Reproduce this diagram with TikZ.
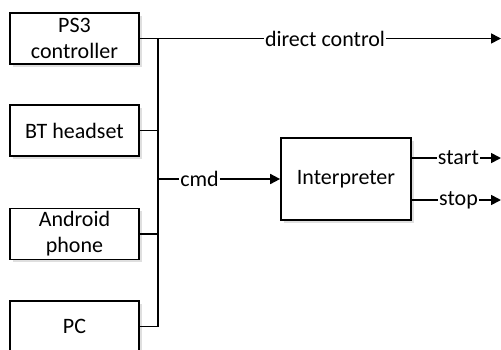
\documentclass[tikz,border=0pt]{standalone}
\usepackage{fontspec}
\setmainfont{Carlito}
\usetikzlibrary{arrows.meta, positioning, shadows}

\tikzset{
	srcbox/.style={
		draw,
		line width=1.7pt,
		fill=white,
		minimum width=129pt,
		minimum height=51pt,
		align=center,
		inner sep=0pt,
		drop shadow={opacity=0.25, shadow xshift=2.5pt, shadow yshift=-2.5pt}
	},
	wire/.style={
		line width=1.7pt
	},
	flow/.style={
		wire,
		-{Triangle[length=10pt,width=10pt]}
	},
	lbl/.style={
		inner sep=1pt
	}
}

\begin{document}
\begin{tikzpicture}[x=1pt, y=-1pt, font=\fontsize{22}{26}\selectfont]
	\clip (0,0) rectangle (501,349);
	\useasboundingbox (0,0) rectangle (501,349);

	\node[srcbox] (ps3) at (74.5,38.5) {PS3\\controller};
	\node[srcbox] (bt) at (74.5,130.5) {BT headset};
	\node[srcbox] (android) at (74.5,234) {Android\\phone};
	\node[srcbox] (pc) at (74.5,326.5) {PC};
	\node[
		srcbox,
		minimum width=130pt,
		minimum height=82pt
	] (interp) at (346,179) {Interpreter};

	\coordinate (bus) at (158,179);
	\coordinate (dcend) at (501,38.5);
	\coordinate (startend) at (501,158);
	\coordinate (stopend) at (501,200);

	\node[lbl] (direct) at (325,38.5) {direct control};
	\node[lbl] (cmd) at (199.5,179) {cmd};
	\node[lbl] (start) at (458.5,158) {start};
	\node[lbl] (stop) at (458.5,200) {stop};

	\draw[wire] (ps3.east) -- (direct);
	\draw[flow] (direct) -- (dcend);
	\draw[wire] (ps3.east -| bus) -- (pc.east -| bus);
	\draw[wire] (bt.east) -- (bt.east -| bus);
	\draw[wire] (android.east) -- (android.east -| bus);
	\draw[wire] (pc.east) -- (pc.east -| bus);
	\draw[wire] (bus) -- (cmd);
	\draw[flow] (cmd) -- (interp);
	\draw[wire] (interp.east |- start) -- (start);
	\draw[flow] (start) -- (startend);
	\draw[wire] (interp.east |- stop) -- (stop);
	\draw[flow] (stop) -- (stopend);
\end{tikzpicture}
\end{document}
